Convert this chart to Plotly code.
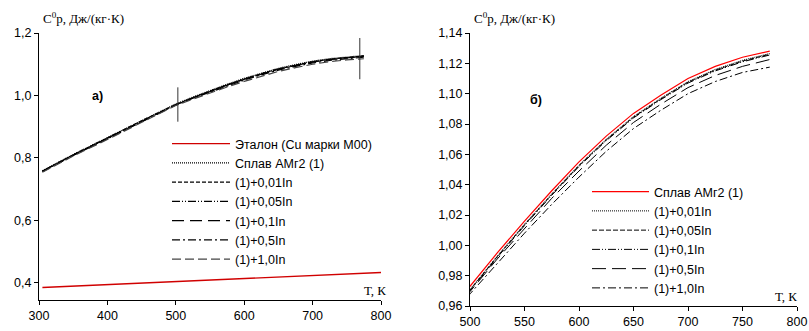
import plotly.graph_objects as go

# ---------------- data ----------------
T_alloy = [305, 350, 400, 450, 500, 525, 550, 575, 600, 625, 650, 675, 700, 725, 750, 775]
cp_amg2 = [0.759, 0.811, 0.865, 0.920, 0.973, 0.995, 1.016, 1.036, 1.055, 1.072, 1.087, 1.099, 1.110, 1.118, 1.124, 1.128]
cp_in001 = [0.758, 0.810, 0.864, 0.919, 0.971, 0.993, 1.014, 1.034, 1.053, 1.070, 1.085, 1.097, 1.108, 1.116, 1.122, 1.1265]
cp_in005 = [0.757, 0.809, 0.863, 0.918, 0.9705, 0.9925, 1.0135, 1.0335, 1.0525, 1.0695, 1.0845, 1.0965, 1.1075, 1.1155, 1.1215, 1.126]
cp_in01 = [0.757, 0.809, 0.863, 0.917, 0.970, 0.992, 1.013, 1.033, 1.052, 1.069, 1.084, 1.096, 1.107, 1.115, 1.121, 1.1255]
cp_in05 = [0.756, 0.808, 0.861, 0.915, 0.9695, 0.991, 1.011, 1.031, 1.049, 1.066, 1.081, 1.093, 1.104, 1.112, 1.118, 1.1225]
cp_in10 = [0.754, 0.806, 0.859, 0.913, 0.968, 0.988, 1.008, 1.027, 1.045, 1.062, 1.077, 1.089, 1.100, 1.108, 1.114, 1.1175]

T_ref = [305, 550, 800]
cp_ref = [0.385, 0.409, 0.433]

mark_T = [503, 769]
mark_lo = [0.916, 1.052]
mark_hi = [1.026, 1.184]

x_ticks_a = [300, 400, 500, 600, 700, 800]
y_ticks_a = [0.4, 0.6, 0.8, 1.0, 1.2]
x_ticks_b = [500, 550, 600, 650, 700, 750, 800]
y_ticks_b = [0.96, 0.98, 1.00, 1.02, 1.04, 1.06, 1.08, 1.10, 1.12, 1.14]

names_a = ["Эталон (Cu марки M00)", "Сплав АМг2 (1)", "(1)+0,01In", "(1)+0,05In",
           "(1)+0,1In", "(1)+0,5In", "(1)+1,0In"]
names_b = ["Сплав АМг2 (1)", "(1)+0,01In", "(1)+0,05In", "(1)+0,1In",
           "(1)+0,5In", "(1)+1,0In"]

# ---------------- figure ----------------
SANS = "Liberation Sans, Arial, sans-serif"
SERIF = "Liberation Serif, Times New Roman, serif"
FS = 12.5

fig = go.Figure()

# panel a
fig.add_trace(go.Scatter(x=T_ref, y=cp_ref, mode="lines", name=names_a[0],
                         line=dict(color="#d00000", width=1.4), xaxis="x", yaxis="y", legend="legend"))
styles_a = [
    ("black", "1px,1px"),
    ("black", "4px,2px"),
    ("black", "8px,2px,1px,2px,1px,2px"),
    ("black", "12px,6px"),
    ("black", "8px,3px,2px,3px"),
    ("#444444", "9px,4px"),
]
series = [cp_amg2, cp_in001, cp_in005, cp_in01, cp_in05, cp_in10]
for nm, ys, (c, d) in zip(names_a[1:], series, styles_a):
    fig.add_trace(go.Scatter(x=T_alloy, y=ys, mode="lines", name=nm,
                             line=dict(color=c, width=1.2, dash=d), xaxis="x", yaxis="y", legend="legend"))

# vertical marks
mx, my = [], []
for t, lo, hi in zip(mark_T, mark_lo, mark_hi):
    mx += [t, t, None]
    my += [lo, hi, None]
fig.add_trace(go.Scatter(x=mx, y=my, mode="lines", showlegend=False,
                         line=dict(color="#333333", width=1), xaxis="x", yaxis="y"))

# panel b
styles_b = [
    ("#ff0000", "solid", 1.2),
    ("black", "1px,1px", 1),
    ("black", "5px,2px", 1),
    ("black", "8px,2px,1px,2px,1px,2px", 1),
    ("black", "14px,6px", 1),
    ("black", "8px,3px,2px,3px", 1),
]
for nm, ys, (c, d, w) in zip(names_b, series, styles_b):
    fig.add_trace(go.Scatter(x=T_alloy, y=ys, mode="lines", name=nm,
                             line=dict(color=c, width=w, dash=d), xaxis="x2", yaxis="y2", legend="legend2"))

W, H = 809, 331
def px(x):
    return x / W
def py(y):
    return 1 - y / H

axis_common = dict(showline=True, linecolor="black", linewidth=1, ticks="outside",
                   ticklen=4, tickcolor="black", showgrid=False, zeroline=False,
                   automargin=False,
                   tickfont=dict(family=SANS, size=FS, color="black"))

fig.update_layout(
    template="none",
    width=W, height=H, autosize=False,
    margin=dict(l=0, r=0, t=0, b=0, pad=0),
    paper_bgcolor="white", plot_bgcolor="white",
    font=dict(family=SANS, size=FS, color="black"),
    separators=", ",
    xaxis=dict(domain=[px(39), px(381)], range=[300, 800], tickvals=x_ticks_a,
               anchor="y", **axis_common),
    yaxis=dict(domain=[py(300), py(33)], range=[0.345, 1.2], tickvals=y_ticks_a,
               tickformat=".1f", anchor="x", **axis_common),
    xaxis2=dict(domain=[px(470), px(797)], range=[500, 800], tickvals=x_ticks_b,
                anchor="y2", **axis_common),
    yaxis2=dict(domain=[py(306), py(33)], range=[0.96, 1.14], tickvals=y_ticks_b,
                tickformat=".2f", anchor="x2", **axis_common),
    legend=dict(x=px(167), y=py(129), xanchor="left", yanchor="top",
                bgcolor="rgba(0,0,0,0)", font=dict(family=SANS, size=FS, color="black"),
                itemwidth=58, tracegroupgap=0),
    legend2=dict(x=px(587), y=py(177), xanchor="left", yanchor="top",
                 bgcolor="rgba(0,0,0,0)", font=dict(family=SANS, size=FS, color="black"),
                 itemwidth=57, tracegroupgap=0),
    showlegend=True,
)

annos = [
    dict(x=px(41), y=py(28), text="C<sup>0</sup>p, Дж/(кг·К)"),
    dict(x=px(472), y=py(28), text="C<sup>0</sup>p, Дж/(кг·К)"),
]
for a in annos:
    fig.add_annotation(xref="paper", yref="paper", xanchor="left", yanchor="bottom",
                       showarrow=False, font=dict(family=SERIF, size=13, color="black"), **a)
for xx, yy, t in [(375, 290, "Т, К"), (786, 296, "Т, К")]:
    fig.add_annotation(xref="paper", yref="paper", x=px(xx), y=py(yy), text=t,
                       showarrow=False, xanchor="center", yanchor="middle",
                       font=dict(family=SERIF, size=13, color="black"))
for xx, yy, t in [(97, 96, "<b>а)</b>"), (536, 100, "<b>б)</b>")]:
    fig.add_annotation(xref="paper", yref="paper", x=px(xx), y=py(yy), text=t,
                       showarrow=False, xanchor="center", yanchor="middle",
                       font=dict(family=SANS, size=FS, color="black"))

fig.write_html("out.html", config={"displayModeBar": False},
               post_script="document.body.style.margin='0';document.body.style.padding='0';")
